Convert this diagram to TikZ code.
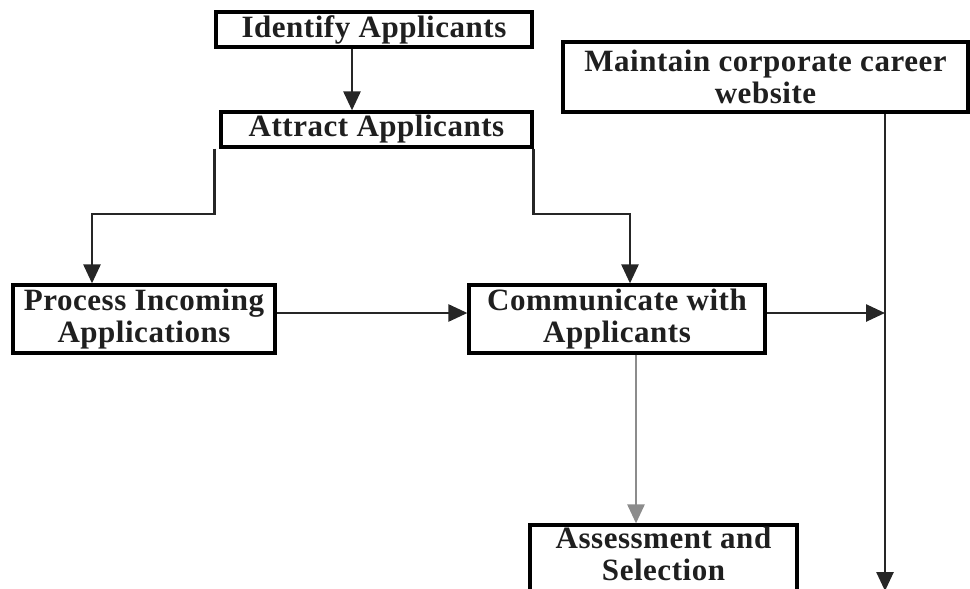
\documentclass[tikz,border=0pt]{standalone}
\usepackage{fontspec}
\setmainfont[LetterSpace=1.7]{Liberation Serif}
\usetikzlibrary{arrows.meta}
\begin{document}
\begin{tikzpicture}[x=1pt,y=-1pt,
  box/.style={draw=black,line width=3.2pt,fill=white,inner sep=0pt,align=center,
    font=\bfseries\fontsize{31}{32}\selectfont,text=black!88},
  conn/.style={line width=2.6pt,draw=black!85},
  arr/.style={conn,-{Triangle[width=17pt,length=19pt]}},
  grayarr/.style={line width=2.6pt,draw=black!45,-{Triangle[width=17pt,length=19pt]}}]
\useasboundingbox (0,0) rectangle (970,589);
\node[box,minimum width=316pt,minimum height=35pt] (id) at (374,29.5) {Identify Applicants};
\node[box,minimum width=311pt,minimum height=35pt] (att) at (376.5,129.5) {Attract Applicants};
\node[box,minimum width=405pt,minimum height=70pt] (maint) at (765.5,77) {Maintain corporate career\\website};
\node[box,minimum width=262pt,minimum height=68pt] (proc) at (144,319) {Process Incoming\\Applications};
\node[box,minimum width=296pt,minimum height=68pt] (comm) at (617,319) {Communicate with\\Applicants};
\node[box,minimum width=267pt,minimum height=68pt,text depth=10pt] (assess) at (663.5,559) {Assessment and\\Selection};
\coordinate (c1) at (352,0);
\coordinate (jl) at (92,214);
\coordinate (jr) at (630,214);
\coordinate (vx) at (885,0);
\coordinate (gx) at (636,0);
\coordinate (vend) at (885,591);
\draw[arr] (id.south -| c1) -- (att.north -| c1);
\draw[arr] ([xshift=-5pt]att.south west) |- (jl) -- (proc.north -| jl);
\draw[arr] (att.south east) |- (jr) -- (comm.north -| jr);
\draw[arr] ([yshift=6pt]proc.east) -- ([yshift=6pt]comm.west);
\draw[arr] (maint.south -| vx) -- (vend);
\draw[arr] ([yshift=6pt]comm.east) -- ([yshift=6pt]comm.east -| vx);
\draw[grayarr] (comm.south -| gx) -- (assess.north -| gx);
\end{tikzpicture}
\end{document}
